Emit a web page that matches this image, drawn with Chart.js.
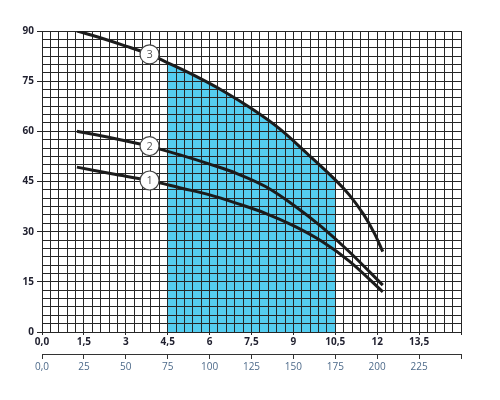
<!DOCTYPE html>
<html><head><meta charset="utf-8">
<script src="https://cdn.jsdelivr.net/npm/chart.js@4"></script>
<style>html,body{margin:0;padding:0;background:#fff}#c{display:block}</style>
</head><body>
<canvas id="c" width="500" height="400"></canvas>
<script>
// Flow (m3/h) and head (m) for each pump curve
const q1 = [1.25, 2.5, 3.85, 5, 6, 7, 8, 9, 10, 11, 12.2];
const h1 = [49.3, 47.3, 45.3, 43, 41, 38.4, 35.5, 31.8, 27.2, 21.2, 12];
const q2 = [1.25, 2.5, 3.85, 5, 6, 7, 8, 9, 10, 11, 12.2];
const h2 = [60, 58, 55.5, 52.8, 50.2, 47.3, 43.5, 38, 31.5, 24, 14];
const q3 = [1.25, 2, 3, 3.85, 4.5, 5.5, 6.5, 7.5, 8.5, 9.5, 10.5, 11, 11.5, 11.9, 12.2];
const h3 = [90, 88.2, 85.5, 83, 80.5, 76.5, 72, 66.8, 60.8, 53.3, 45.5, 41, 35.3, 29.5, 24];
// working range (shaded) on curve 3
const rangeMin = 4.5, rangeMax = 10.5;
// curve number markers
const markerLabels = ['1', '2', '3'];
const markerQ = [3.85, 3.85, 3.85];
const markerH = [45.3, 55.6, 83.0];
// axis ticks
const yLabelStep = 15;
const xLabelStep = 1.5;
const q2TickLabels = ['0,0', '25', '50', '75', '100', '125', '150', '175', '200', '225', ''];

const pts = (xs, ys) => xs.map((x, i) => ({x, y: ys[i]}));
const fillPts = pts(q3, h3).filter(p => p.x >= rangeMin && p.x <= rangeMax);
const FONT = "'Open Sans', 'DejaVu Sans', sans-serif";

const markerText = {
  id: 'markerText',
  afterDatasetsDraw(chart) {
    const meta = chart.getDatasetMeta(4);
    const ctx = chart.ctx;
    ctx.save();
    ctx.fillStyle = '#555';
    ctx.font = "11px " + FONT;
    ctx.textAlign = 'center';
    ctx.textBaseline = 'middle';
    meta.data.forEach((el, i) => ctx.fillText(markerLabels[i], el.x, el.y + 0.5));
    ctx.restore();
  }
};

const curveStyle = {borderColor: '#1b1b1b', borderWidth: 3, pointRadius: 0, tension: 0.35, fill: false, order: 1};

new Chart(document.getElementById('c'), {
  type: 'scatter',
  data: {
    datasets: [
      Object.assign({data: pts(q1, h1), showLine: true}, curveStyle),
      Object.assign({data: pts(q2, h2), showLine: true}, curveStyle),
      Object.assign({data: pts(q3, h3), showLine: true}, curveStyle),
      {data: fillPts, showLine: true, borderWidth: 0, borderColor: 'rgba(0,0,0,0)', pointRadius: 0,
       tension: 0.35, fill: 'origin', backgroundColor: '#55cdf0', order: 2},
      {data: pts(markerQ, markerH), showLine: false, pointRadius: 9.5, pointHoverRadius: 9.5,
       pointBackgroundColor: '#fff', pointBorderColor: '#444', pointBorderWidth: 1.2, order: 0}
    ]
  },
  options: {
    responsive: false,
    animation: false,
    events: [],
    layout: {padding: {left: 0, right: 39, top: 31, bottom: 25}},
    plugins: {legend: {display: false}, tooltip: {enabled: false}, filler: {drawTime: 'beforeDraw'}},
    scales: {
      x: {
        type: 'linear', position: 'bottom', min: 0, max: 15,
        afterFit: s => { s.height = 22; },
        grid: {color: '#262626', lineWidth: 1, tickLength: 3,
               tickColor: c => (c.tick && Math.abs(Math.round(c.tick.value * 10) % (xLabelStep * 10)) < 0.01 ? '#262626' : 'rgba(0,0,0,0)')},
        border: {color: '#262626', width: 1},
        ticks: {
          stepSize: 0.3, autoSkip: false, maxRotation: 0, padding: 1,
          color: '#1f1f2e', font: {family: FONT, size: 10, weight: 'bold'},
          callback: v => {
            const r = Math.round(v * 10);
            if (r % (xLabelStep * 10) !== 0 || r >= 150) return '';
            if (r === 0) return '0,0';
            return (r % 10 === 0) ? String(r / 10) : (r / 10).toFixed(1).replace('.', ',');
          }
        }
      },
      x2: {
        type: 'linear', position: 'bottom', min: 0, max: 250, weight: 1,
        grid: {display: true, drawOnChartArea: false, tickLength: 5, color: '#333', lineWidth: 1},
        border: {color: '#333', width: 1},
        ticks: {
          stepSize: 25, autoSkip: false, maxRotation: 0, padding: 2,
          color: '#4d6a8a', font: {family: FONT, size: 10},
          callback: (v, i) => q2TickLabels[i] !== undefined ? q2TickLabels[i] : ''
        }
      },
      y: {
        type: 'linear', min: 0, max: 90,
        afterFit: s => { s.width = 42; },
        grid: {color: '#262626', lineWidth: 1, tickLength: 5,
               tickColor: c => (c.tick && Math.abs(Math.round(c.tick.value * 10) % (yLabelStep * 10)) < 0.01 ? '#262626' : 'rgba(0,0,0,0)')},
        border: {color: '#262626', width: 1},
        ticks: {
          stepSize: 2.5, autoSkip: false, padding: 3,
          color: '#1f1f2e', font: {family: FONT, size: 10, weight: 'bold'},
          callback: v => (Math.round(v * 10) % (yLabelStep * 10) === 0) ? String(Math.round(v)) : ''
        }
      }
    }
  },
  plugins: [markerText]
});
</script>
</body></html>
